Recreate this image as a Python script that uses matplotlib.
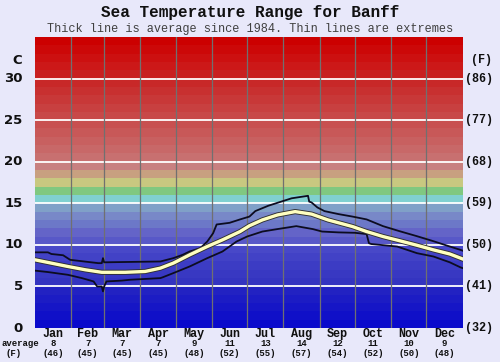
import matplotlib
matplotlib.use('Agg')
import matplotlib.pyplot as plt
import matplotlib.patheffects as pe
import numpy as np

# ---------------- data ----------------
months = ['Jan', 'Feb', 'Mar', 'Apr', 'May', 'Jun', 'Jul', 'Aug', 'Sep', 'Oct', 'Nov', 'Dec']
month_days = [31, 28, 31, 30, 31, 30, 31, 31, 30, 31, 30, 31]
avg_c = [8, 7, 7, 7, 9, 11, 13, 14, 12, 11, 10, 9]
avg_f = [46, 45, 45, 45, 48, 52, 55, 57, 54, 52, 50, 48]
c_ticks = [0, 5, 10, 15, 20, 25, 30]
f_labels = ['(32)', '(41)', '(50)', '(59)', '(68)', '(77)', '(86)']

avg_day = [0, 14, 28, 43, 57, 77, 94, 107, 118, 132, 147, 160, 175, 183, 194, 207,
           222, 236, 250, 271, 283, 297, 311, 326, 340, 354, 365]
avg_val = [8.2, 7.8, 7.4, 7.0, 6.7, 6.7, 6.8, 7.2, 7.8, 8.8, 9.8, 10.6, 11.6, 12.3, 13.0, 13.6,
           14.0, 13.7, 13.0, 12.2, 11.6, 11.0, 10.5, 9.95, 9.4, 8.9, 8.3]

upper_day = [0, 11, 14, 24, 30, 54, 57, 58, 59, 107, 118, 126, 132, 141, 147, 152, 155, 166,
             175, 183, 188, 199, 219, 233, 234, 236, 241, 247, 259, 271, 283, 297, 311, 326,
             340, 354, 363, 365]
upper_val = [9.1, 9.1, 8.9, 8.75, 8.2, 7.8, 7.8, 8.4, 7.9, 8.0, 8.4, 8.8, 9.2, 9.6, 10.4, 11.4,
             12.45, 12.65, 13.06, 13.4, 14.06, 14.7, 15.6, 15.9, 15.2, 15.1, 14.5, 14.06, 13.7,
             13.4, 13.06, 12.25, 11.65, 11.04, 10.44, 9.8, 9.4, 9.3]

lower_day = [0, 11, 28, 40, 50, 53, 57, 58, 59, 61, 74, 81, 107, 109, 118, 132, 147, 160, 172,
             181, 194, 207, 223, 237, 245, 259, 273, 283, 285, 287, 309, 326, 340, 354, 363, 365]
lower_val = [6.9, 6.73, 6.4, 6.0, 5.6, 5.0, 5.0, 4.4, 5.0, 5.6, 5.7, 5.8, 6.0, 6.1, 6.6, 7.4, 8.4,
             9.2, 10.4, 11.0, 11.6, 11.9, 12.25, 11.9, 11.6, 11.5, 11.45, 11.3, 10.2, 10.1, 9.8,
             9.0, 8.6, 7.9, 7.3, 7.2]

band_colors = ['#0a0acc', '#1010c8', '#1616c6', '#1c1cc4', '#2222c2',
               '#3434c0', '#3838c2', '#3c3cc4', '#4242c6', '#4848c8',
               '#5858c8', '#6464c8', '#6c78c8', '#7888c8', '#80a0c8',
               '#80d0d0', '#80c880', '#c8c880', '#c8a080', '#c88080',
               '#c87070', '#c86868', '#c86060', '#c85858', '#c85050',
               '#c84848', '#c84040', '#c83838', '#c83030', '#c82828',
               '#c82020', '#cc1818', '#cc1010', '#cc0808', '#cc0000']

# ---------------- figure ----------------
W, H = 500, 362
fig = plt.figure(figsize=(W / 100, H / 100), dpi=100, facecolor='#e8e8fa')
L, R, T, B = 35, 462.7, 37, 328
ax = fig.add_axes([L / W, 1 - B / H, (R - L) / W, (B - T) / H])
ax.set_xlim(0, 365)
ax.set_ylim(0, 35)

for i, c in enumerate(band_colors):
    ax.axhspan(i, i + 1, color=c, lw=0, zorder=0)
for t in c_ticks[1:]:
    ax.axhline(t, color='white', lw=1.3, zorder=1)
bounds = np.cumsum([0] + month_days)
for b in bounds[1:-1]:
    ax.axvline(b, color='#707070', lw=0.9, zorder=1)

ax.plot(upper_day, upper_val, color='#0c0c20', lw=1.3, zorder=3)
ax.plot(lower_day, lower_val, color='#0c0c20', lw=1.3, zorder=3)
ax.plot(avg_day, avg_val, color='#ffffc0', lw=2.4, zorder=4,
        path_effects=[pe.Stroke(linewidth=3.7, foreground='#303030'), pe.Normal()])

ax.set_xticks([])
ax.set_yticks([])
for s in ax.spines.values():
    s.set_visible(False)

mono = 'Liberation Mono'
ytr = ax.get_yaxis_transform()
xtr = ax.get_xaxis_transform()
for t, fl in zip(c_ticks, f_labels):
    ax.text(-12.3 / (R - L), t, str(t), transform=ytr, ha='right', va='center',
            fontsize=9.5, family='DejaVu Sans', weight='bold', color='#101010')
    ax.text(1 + 2.5 / (R - L), t, fl, transform=ytr, ha='left', va='center',
            fontsize=8.5, family=mono, weight='bold', color='#101010')
ax.text(-17.5 / (R - L), 32.2, 'C', transform=ytr, ha='center', va='center',
        fontsize=9.5, family='DejaVu Sans', weight='bold', color='#101010')
ax.text(1 + 19 / (R - L), 32.2, '(F)', transform=ytr, ha='center', va='center',
        fontsize=8.5, family=mono, weight='bold', color='#101010')

centers = (bounds[:-1] + bounds[1:]) / 2
for m, cx, c, f in zip(months, centers, avg_c, avg_f):
    ax.text(cx, -6 / (B - T), m, transform=xtr, ha='center', va='center',
            fontsize=8.5, family=mono, weight='bold', color='#101010')
    ax.text(cx, -15.3 / (B - T), str(c), transform=xtr, ha='center', va='center',
            fontsize=6.5, family=mono, weight='bold', color='#101010')
    ax.text(cx, -25 / (B - T), '(%d)' % f, transform=xtr, ha='center', va='center',
            fontsize=6.5, family=mono, weight='bold', color='#101010')

fig.text(2 / W, 1 - 343.3 / H, 'average', ha='left', va='center',
         fontsize=6.5, family=mono, weight='bold', color='#101010')
fig.text(13.5 / W, 1 - 353 / H, '(F)', ha='center', va='center',
         fontsize=6.5, family=mono, weight='bold', color='#101010')

fig.text(0.5, 1 - 16.7 / H, 'Sea Temperature Range for Banff', ha='center', va='baseline',
         fontsize=11.5, family=mono, weight='bold', color='#101010')
fig.text(0.5, 1 - 31.7 / H, 'Thick line is average since 1984. Thin lines are extremes',
         ha='center', va='baseline', fontsize=8.6, family=mono, color='#404040')

fig.savefig('out.png', dpi=100, facecolor=fig.get_facecolor())
